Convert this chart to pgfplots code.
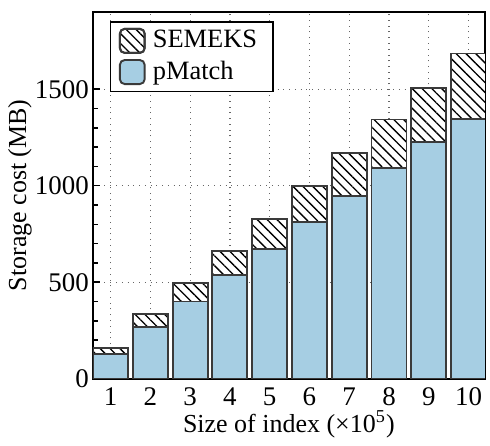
\documentclass[border=0pt]{standalone}
\usepackage{fontspec}
\setmainfont{Liberation Serif}
\usepackage{pgfplots}
\pgfplotsset{compat=1.18}
\usetikzlibrary{patterns.meta}
\definecolor{pblue}{HTML}{A6CEE3}
\definecolor{edge}{HTML}{3A3A3A}
\begin{document}
\begin{tikzpicture}
\begin{axis}[
  name=ax,
  scale only axis,
  width=163pt, height=152.5pt,
  xmin=0.555, xmax=10.41,
  ymin=0, ymax=1900,
  xtick={1,...,10},
  ytick={0,500,1000,1500},
  minor y tick num=4,
  ytick pos=left,
  xtick pos=bottom,
  tick align=inside,
  major x tick style={draw=none},
  major tick length=2.8pt, minor tick length=2pt,
  tick style={line width=0.6pt, black},
  grid=major,
  major grid style={dotted, gray!80!black, line width=0.5pt},
  /pgf/number format/assume math mode=true,
  /pgf/number format/1000 sep={},
  tick label style={font=\fontsize{11.2}{13}\selectfont},
  xticklabel style={yshift=2.5pt},
  yticklabel style={xshift=1.8pt},
  label style={font=\fontsize{10.8}{12.5}\selectfont},
  xlabel={Size of index (×10\textsuperscript{5})},
  ylabel={Storage cost (MB)},
  xlabel style={yshift=5pt},
  ylabel style={yshift=-5.5pt},
  axis line style={line width=0.7pt},
  ybar, bar width=0.88,
  legend style={at={(0.043,0.975)}, anchor=north west, draw=black, line width=0.6pt,
    font=\fontsize{11}{13}\selectfont, row sep=0pt, inner xsep=3.5pt, inner ysep=1.5pt,
    nodes={inner xsep=3pt}},
  legend cell align=left,
  legend image code/.code={\draw[#1, rounded corners=2pt] (0pt,-0.5em) rectangle (1.03em,0.5em);},
]
\addplot[bar shift=0pt, draw=edge, line width=0.8pt, fill=white,
  postaction={pattern={Lines[angle=-45, distance=2.9pt, line width=0.55pt]}}] coordinates {
(1,160) (2,333) (3,497) (4,664) (5,828) (6,1000) (7,1169) (8,1343) (9,1508) (10,1685)};
\addlegendentry{SEMEKS}
\addplot[bar shift=0pt, draw=edge, line width=0.8pt, fill=pblue] coordinates {
(1,129) (2,267) (3,400) (4,538) (5,672) (6,814) (7,948) (8,1090) (9,1228) (10,1345)};
\addlegendentry{pMatch}
\end{axis}
\path ([yshift=5pt]ax.north);
\end{tikzpicture}
\end{document}
